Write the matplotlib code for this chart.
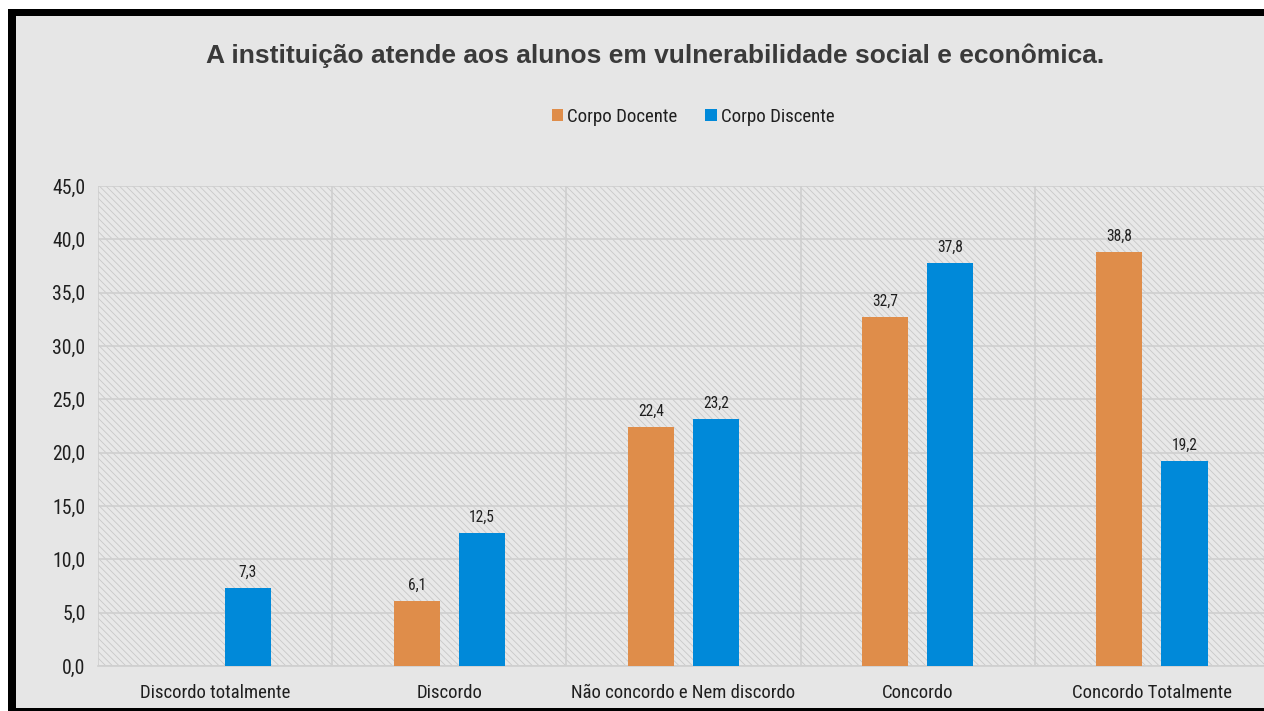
import matplotlib
matplotlib.use("Agg")
import matplotlib.pyplot as plt
import numpy as np
from matplotlib.patches import Rectangle
from matplotlib.ticker import FuncFormatter
from matplotlib import font_manager as fm

categories = ["Discordo totalmente", "Discordo", "Não concordo e Nem discordo", "Concordo", "Concordo Totalmente"]
docente = [np.nan, 6.1, 22.4, 32.7, 38.8]
discente = [7.3, 12.5, 23.2, 37.8, 19.2]
series_names = ["Corpo Docente", "Corpo Discente"]
title = "A instituição atende aos alunos em vulnerabilidade social e econômica."

# pick a condensed face if one is installed, else Liberation Sans
fam, stretch = 'Liberation Sans', 'normal'
entries = fm.fontManager.ttflist
for want in ('Liberation Sans Narrow', 'Roboto Condensed', 'Open Sans Condensed'):
    if any(f.name == want for f in entries):
        fam = want
        break
else:
    for nm in ('Roboto', 'Open Sans', 'DejaVu Sans', 'Noto Sans'):
        if any(f.name == nm and f.stretch in ('condensed', 'semi-condensed') for f in entries):
            fam, stretch = nm, 'condensed'
            break

plt.rcParams['font.family'] = [fam, 'DejaVu Sans']
plt.rcParams['font.stretch'] = stretch
plt.rcParams['hatch.color'] = '#c4c4c4'
plt.rcParams['hatch.linewidth'] = 0.6

W, H = 1264, 711
fig = plt.figure(figsize=(W/100, H/100), dpi=100)
fig.patch.set_facecolor('white')
renderer = fig.canvas.get_renderer()

def fit_size(s, target_px, weight='normal'):
    t = fig.text(0, 0, s, fontsize=10, fontweight=weight)
    wpx = t.get_window_extent(renderer).width
    t.remove()
    return 10 * target_px / wpx

xt_size = fit_size("Não concordo e Nem discordo", 224)
yt_size = fit_size("45,0", 33)
lg_size = fit_size("Corpo Docente", 110)
vl_size = fit_size("37,8", 26)

def px(x0, y0, x1, y1):
    return (x0/W, 1-y1/H), (x1-x0)/W, (y1-y0)/H

xy, w, h = px(8, 9, W+5, H+5)
fig.add_artist(Rectangle(xy, w, h, transform=fig.transFigure, facecolor='black', edgecolor='none', zorder=-10))
xy, w, h = px(16, 16, W+5, 708)
fig.add_artist(Rectangle(xy, w, h, transform=fig.transFigure, facecolor='#e6e6e6', edgecolor='none', zorder=-9))

left = 98/W
right = 1269/W
bottom = 1-666/H
top = 1-186/H
ax = fig.add_axes([left, bottom, right-left, top-bottom])
ax.set_facecolor('#e8e8e8')
ax.patch.set_hatch('\\\\\\\\\\')
ax.patch.set_edgecolor('#c8c8c8')
ax.patch.set_linewidth(0)

x = np.arange(len(categories))
bw = 0.197
off = 0.139
c_doc = '#DF8D4A'
c_dis = '#0089D9'
b1 = ax.bar(x-off, docente, bw, color=c_doc, zorder=3, label=series_names[0])
b2 = ax.bar(x+off, discente, bw, color=c_dis, zorder=3, label=series_names[1])

for xs, vals in ((x-off, docente), (x+off, discente)):
    for xi, v in zip(xs, vals):
        if not np.isnan(v):
            ax.text(xi, v+0.75, f"{v:.1f}".replace('.', ','), ha='center', va='bottom',
                    fontsize=vl_size, color='#1f1f1f', zorder=4)

ax.set_xlim(-0.5, len(categories)-0.5)
ax.set_ylim(0, 45)
ax.set_yticks(np.arange(0, 46, 5))
ax.yaxis.set_major_formatter(FuncFormatter(lambda v, p: f"{v:.1f}".replace('.', ',')))
ax.set_xticks(x)
ax.set_xticklabels(categories)
ax.set_xticks(np.arange(-0.5, len(categories), 1), minor=True)
ax.tick_params(axis='both', which='both', length=0, colors='#1f1f1f')
ax.tick_params(axis='x', labelsize=xt_size, pad=13)
ax.tick_params(axis='y', labelsize=yt_size, pad=9)
ax.grid(axis='y', which='major', color='#cfcfcf', linewidth=1.2, zorder=1)
ax.grid(axis='x', which='minor', color='#cfcfcf', linewidth=1.2, zorder=1)
ax.grid(axis='x', which='major', visible=False)
for s in ('top', 'right', 'left'):
    ax.spines[s].set_visible(False)
ax.spines['bottom'].set_color('#cfcfcf')
ax.spines['bottom'].set_linewidth(1.2)
ax.set_axisbelow(True)

fig.text(655/W, 1-56/H, title, ha='center', va='center', fontsize=19, fontweight='bold',
         color='#3a3a3a', family=['Liberation Sans', 'DejaVu Sans'], fontstretch='normal')

leg = fig.legend(handles=[b1, b2], labels=series_names, loc='center', bbox_to_anchor=(693/W, 1-117/H),
                 ncol=2, frameon=False, fontsize=lg_size, handlelength=0.6, handleheight=0.6,
                 handletextpad=0.2, columnspacing=1.5)
for t in leg.get_texts():
    t.set_color('#1f1f1f')

fig.savefig('out.png', dpi=100)
